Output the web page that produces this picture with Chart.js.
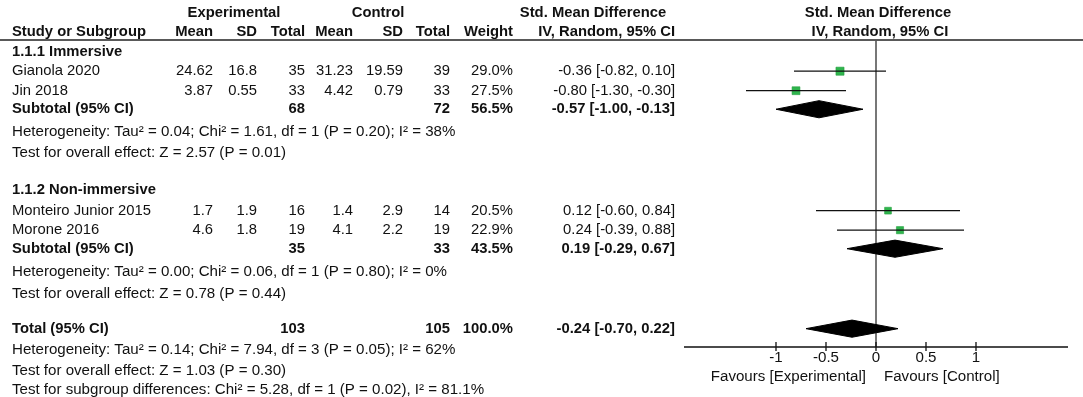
<!DOCTYPE html>
<html>
<head>
<meta charset="utf-8">
<script src="https://cdn.jsdelivr.net/npm/chart.js@4"></script>
<style>
  html, body { margin: 0; padding: 0; background: #fff; }
  #wrap { width: 1083px; height: 397px; }
</style>
</head>
<body>
<div id="wrap"><canvas id="forest" width="1083" height="397"></canvas></div>
<script>
// study level data
const studies = ['Gianola 2020', 'Jin 2018', 'Monteiro Junior 2015', 'Morone 2016'];
const expMean = [24.62, 3.87, 1.7, 4.6];
const expSD = [16.8, 0.55, 1.9, 1.8];
const expN = [35, 33, 16, 19];
const ctlMean = [31.23, 4.42, 1.4, 4.1];
const ctlSD = [19.59, 0.79, 2.9, 2.2];
const ctlN = [39, 33, 14, 19];
const weight = [29.0, 27.5, 20.5, 22.9];
const smd = [-0.36, -0.80, 0.12, 0.24];
const smdLo = [-0.82, -1.30, -0.60, -0.39];
const smdHi = [0.10, -0.30, 0.84, 0.88];

// subgroups
const groupNames = ['1.1.1 Immersive', '1.1.2 Non-immersive'];
const groupExpN = [68, 35];
const groupCtlN = [72, 33];
const groupWeight = [56.5, 43.5];
const groupSmd = [-0.57, 0.19];
const groupLo = [-1.00, -0.29];
const groupHi = [-0.13, 0.67];
const groupHet = [
  'Heterogeneity: Tau² = 0.04; Chi² = 1.61, df = 1 (P = 0.20); I² = 38%',
  'Heterogeneity: Tau² = 0.00; Chi² = 0.06, df = 1 (P = 0.80); I² = 0%'
];
const groupTest = [
  'Test for overall effect: Z = 2.57 (P = 0.01)',
  'Test for overall effect: Z = 0.78 (P = 0.44)'
];

// overall
const totalExpN = 103;
const totalCtlN = 105;
const totalWeight = 100.0;
const totalSmd = -0.24;
const totalLo = -0.70;
const totalHi = 0.22;
const totalNotes = [
  'Heterogeneity: Tau² = 0.14; Chi² = 7.94, df = 3 (P = 0.05); I² = 62%',
  'Test for overall effect: Z = 1.03 (P = 0.30)',
  'Test for subgroup differences: Chi² = 5.28, df = 1 (P = 0.02), I² = 81.1%'
];

const xTicks = [-1, -0.5, 0, 0.5, 1];

// layout: rows in line units below the header rule
const headRows = [-1.4, -0.42];
const groupRows = [0.6, 7.7];
const studyRows = [1.6, 2.6, 8.75, 9.75];
const subRows = [3.55, 10.7];
const hetRows = [4.7, 11.9];
const testRows = [5.8, 13.0];
const totalRow = 14.8;
const totalNoteRows = [15.9, 16.95, 17.95];
const cols = [213, 257, 305, 353, 403, 450, 513, 675];

const FONT = '"Liberation Sans", Arial, sans-serif';
const REG = '14.8px ' + FONT;
const BOLD = 'bold 14.8px ' + FONT;
const NOTE = '15.1px ' + FONT;

const ciText = (e, l, h) => e.toFixed(2) + ' [' + l.toFixed(2) + ', ' + h.toFixed(2) + ']';

const datasets = [];
studies.forEach((s, i) => {
  datasets.push({
    type: 'line',
    data: [{x: smdLo[i], y: studyRows[i]}, {x: smdHi[i], y: studyRows[i]}],
    borderColor: '#111', borderWidth: 1.3, pointRadius: 0, fill: false
  });
});
datasets.push({
  type: 'scatter',
  data: studies.map((s, i) => ({x: smd[i], y: studyRows[i]})),
  pointStyle: 'rect',
  pointRadius: weight.map(w => 1.5 * Math.sqrt(w) / Math.SQRT2),
  backgroundColor: '#2fb54d',
  borderColor: '#25a040',
  borderWidth: 0.6
});

function addDiamond(est, lo, hi, row) {
  const h = 0.44;
  datasets.push({
    type: 'line',
    data: [{x: lo, y: row}, {x: est, y: row - h}, {x: hi, y: row}],
    borderColor: '#000', borderWidth: 1, pointRadius: 0, fill: false
  });
  datasets.push({
    type: 'line',
    data: [{x: lo, y: row}, {x: est, y: row + h}, {x: hi, y: row}],
    borderColor: '#000', borderWidth: 1, pointRadius: 0,
    fill: '-1', backgroundColor: '#000'
  });
}
groupNames.forEach((g, i) => addDiamond(groupSmd[i], groupLo[i], groupHi[i], subRows[i]));
addDiamond(totalSmd, totalLo, totalHi, totalRow);

const tablePlugin = {
  id: 'table',
  beforeDatasetsDraw(chart) {
    const {ctx, chartArea, scales: {x}} = chart;
    const x0 = x.getPixelForValue(0);
    ctx.save();
    ctx.strokeStyle = '#222';
    ctx.lineWidth = 1.6;
    ctx.beginPath();
    ctx.moveTo(0, chartArea.top);
    ctx.lineTo(chart.width, chartArea.top);
    ctx.stroke();

    ctx.strokeStyle = '#555';
    ctx.lineWidth = 1.6;
    ctx.beginPath();
    ctx.moveTo(x0, chartArea.top);
    ctx.lineTo(x0, chartArea.bottom);
    ctx.stroke();

    // x axis
    const ay = chartArea.bottom;
    ctx.strokeStyle = '#111';
    ctx.lineWidth = 1.3;
    ctx.beginPath();
    ctx.moveTo(chartArea.left, ay);
    ctx.lineTo(chartArea.right, ay);
    xTicks.forEach(t => {
      const px = x.getPixelForValue(t);
      ctx.moveTo(px, ay - 5);
      ctx.lineTo(px, ay + 4);
    });
    ctx.stroke();
    ctx.restore();
  },
  afterDatasetsDraw(chart) {
    const {ctx, chartArea, scales: {x, y}} = chart;
    const x0 = x.getPixelForValue(0);
    ctx.save();
    ctx.fillStyle = '#111';
    ctx.textBaseline = 'middle';
    // py is a pixel position
    const putPx = (txt, px, py, align, font) => {
      ctx.font = font || REG;
      ctx.textAlign = align || 'left';
      ctx.fillText(txt, px, py);
    };
    // row is a row value on the y scale
    const put = (txt, px, row, align, font) => putPx(txt, px, y.getPixelForValue(row), align, font);
    const rowVals = (vals, row, font) => {
      vals.forEach((v, k) => {
        if (v !== null) put(String(v), cols[k], row, 'right', font);
      });
    };

    // headers
    put('Experimental', 234, headRows[0], 'center', BOLD);
    put('Control', 378, headRows[0], 'center', BOLD);
    put('Std. Mean Difference', 593, headRows[0], 'center', BOLD);
    put('Std. Mean Difference', x0 + 2, headRows[0], 'center', BOLD);
    put('Study or Subgroup', 12, headRows[1], 'left', BOLD);
    rowVals(['Mean', 'SD', 'Total', 'Mean', 'SD', 'Total', 'Weight', 'IV, Random, 95% CI'], headRows[1], BOLD);
    put('IV, Random, 95% CI', x0 + 4, headRows[1], 'center', BOLD);

    groupNames.forEach((g, gi) => {
      put(g, 12, groupRows[gi], 'left', BOLD);
      studies.forEach((s, i) => {
        if ((i < 2 ? 0 : 1) !== gi) return;
        put(s, 12, studyRows[i]);
        rowVals([expMean[i], expSD[i], expN[i], ctlMean[i], ctlSD[i], ctlN[i],
          weight[i].toFixed(1) + '%', ciText(smd[i], smdLo[i], smdHi[i])], studyRows[i]);
      });
      put('Subtotal (95% CI)', 12, subRows[gi], 'left', BOLD);
      rowVals([null, null, groupExpN[gi], null, null, groupCtlN[gi],
        groupWeight[gi].toFixed(1) + '%', ciText(groupSmd[gi], groupLo[gi], groupHi[gi])], subRows[gi], BOLD);
      put(groupHet[gi], 12, hetRows[gi], 'left', NOTE);
      put(groupTest[gi], 12, testRows[gi], 'left', NOTE);
    });

    put('Total (95% CI)', 12, totalRow, 'left', BOLD);
    rowVals([null, null, totalExpN, null, null, totalCtlN,
      totalWeight.toFixed(1) + '%', ciText(totalSmd, totalLo, totalHi)], totalRow, BOLD);
    totalNotes.forEach((t, k) => put(t, 12, totalNoteRows[k], 'left', NOTE));

    // axis labels
    const ay = chartArea.bottom;
    xTicks.forEach(t => putPx(String(t), x.getPixelForValue(t), ay + 11, 'center', NOTE));
    putPx('Favours [Experimental]', x0 - 10, ay + 30, 'right', NOTE);
    putPx('Favours [Control]', x0 + 8, ay + 30, 'left', NOTE);
    ctx.restore();
  }
};

new Chart(document.getElementById('forest'), {
  type: 'scatter',
  data: {datasets: datasets},
  options: {
    responsive: false,
    animation: false,
    layout: {padding: {left: 684, right: 15, top: 40, bottom: 50}},
    plugins: {legend: {display: false}, tooltip: {enabled: false}},
    scales: {
      x: {type: 'linear', min: -1.92, max: 1.92, display: false},
      y: {type: 'linear', min: 0, max: 15.74, reverse: true, display: false}
    }
  },
  plugins: [tablePlugin]
});
</script>
</body>
</html>
